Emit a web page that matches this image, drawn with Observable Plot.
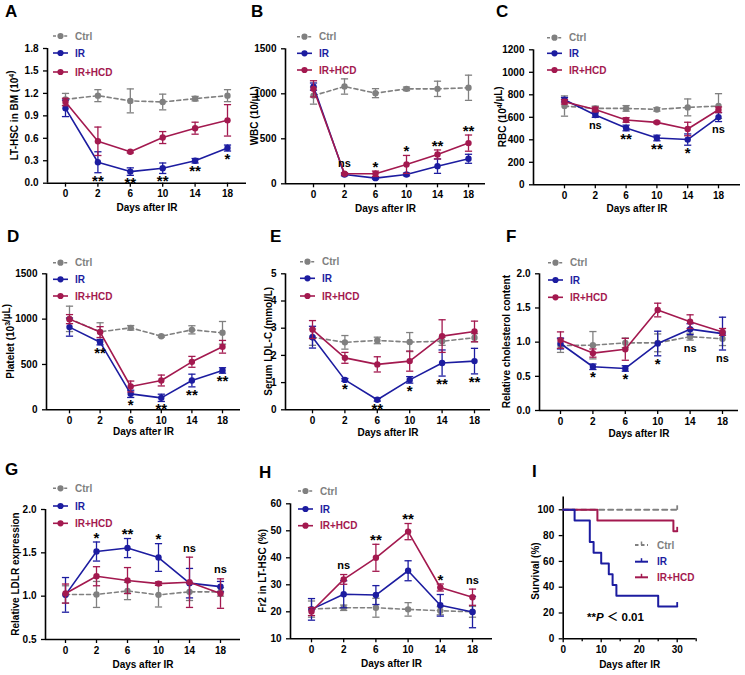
<!DOCTYPE html>
<html><head><meta charset="utf-8">
<script src="https://cdn.jsdelivr.net/npm/d3@7"></script>
<script src="https://cdn.jsdelivr.net/npm/@observablehq/plot@0.6"></script>
<style>
html,body{margin:0;padding:0;background:#fff;}
#root{position:relative;width:745px;height:675px;overflow:hidden;background:#fff;}
#root svg{position:absolute;left:0;top:0;}
</style></head><body><div id="root"></div>
<script>
// ---------------- data ----------------
const days = ["0","2","6","10","14","18"];
const groups = ["Ctrl","IR","IR+HCD"];

// A  LT-HSC in BM (10^4)
const A_ctrl=[1.12,1.17,1.10,1.085,1.13,1.17], A_ctrl_sd=[0.08,0.08,0.16,0.105,0.03,0.08];
const A_ir=[1.00,0.28,0.155,0.20,0.30,0.47],   A_ir_sd=[0.11,0.14,0.05,0.07,0.03,0.04];
const A_hcd=[1.085,0.56,0.42,0.61,0.735,0.84], A_hcd_sd=[0.05,0.19,0.015,0.08,0.08,0.21];
const A_sig=["","**","**","**","**","*"];
const A_yticks=[0,0.3,0.6,0.9,1.2,1.5,1.8];
// B  WBC
const B_ctrl=[980,1081,1007,1055,1055,1067], B_ctrl_sd=[95,85,50,20,85,140];
const B_ir=[1080,104,63,104,196,278],        B_ir_sd=[40,15,10,15,80,50];
const B_hcd=[1055,111,111,215,326,452],      B_hcd_sd=[90,10,30,100,50,90];
const B_sig=["","ns","*","*","**","**"];
const B_yticks=[0,500,1000,1500];
// C  RBC
const C_ctrl=[700,679,679,670,688,700], C_ctrl_sd=[90,20,25,15,75,110];
const C_ir=[756,620,505,416,402,602],   C_ir_sd=[20,20,25,25,50,40];
const C_hcd=[738,670,576,555,496,667],  C_hcd_sd=[20,20,20,10,60,25];
const C_sig=["","ns","**","**","*","ns"];
const C_yticks=[0,200,400,600,800,1000,1200];
// D  Platelet
const D_ctrl=[1003,860,904,812,882,849], D_ctrl_sd=[140,100,25,10,45,125];
const D_ir=[912,746,176,132,323,434],    D_ir_sd=[100,30,40,40,70,30];
const D_hcd=[1000,857,257,323,529,695],  D_hcd_sd=[50,60,60,60,60,70];
const D_sig=["","**","*","**","**","**"];
const D_yticks=[0,500,1000,1500];
// E  Serum LDL-C
const E_ctrl=[2.67,2.48,2.55,2.49,2.52,2.65], E_ctrl_sd=[0.3,0.25,0.12,0.35,0.15,0.15];
const E_ir=[2.67,1.10,0.37,1.10,1.72,1.79],   E_ir_sd=[0.4,0.05,0.05,0.12,0.48,0.47];
const E_hcd=[2.95,1.91,1.67,1.79,2.71,2.88],  E_hcd_sd=[0.33,0.2,0.28,0.37,0.6,0.38];
const E_sig=["","*","**","*","**","**"];
const E_yticks=[0,1,2,3,4,5];
// F  Relative cholesterol content
const F_ctrl=[0.95,0.955,0.99,0.99,1.08,1.05], F_ctrl_sd=[0.1,0.2,0.07,0.13,0.05,0.1];
const F_ir=[0.98,0.64,0.615,0.98,1.19,1.125],  F_ir_sd=[0.08,0.04,0.04,0.18,0.08,0.24];
const F_hcd=[1.03,0.84,0.895,1.47,1.30,1.15],  F_hcd_sd=[0.12,0.06,0.16,0.1,0.1,0.05];
const F_sig=["","*","*","*","ns","ns"];
const F_yticks=[0,0.5,1,1.5,2];
// G  Relative LDLR expression
const G_ctrl=[1.02,1.02,1.06,1.015,1.05,1.05], G_ctrl_sd=[0.1,0.15,0.1,0.14,0.1,0.05];
const G_ir=[1.015,1.515,1.555,1.446,1.15,1.11], G_ir_sd=[0.2,0.11,0.11,0.16,0.17,0.06];
const G_hcd=[1.03,1.23,1.18,1.145,1.16,1.03],   G_hcd_sd=[0.11,0.11,0.15,0.02,0.29,0.17];
const G_sig=["","*","**","*","ns","ns"];
const G_yticks=[0.5,1,1.5,2];
// H  Fr2 in LT-HSC (%)
const H_ctrl=[21,21.5,21.5,20.9,20.4,20], H_ctrl_sd=[3,1,3.5,2.5,1.5,2];
const H_ir=[20.9,26.5,26.2,35.2,22.4,19.9], H_ir_sd=[4,5,3.5,3.7,4,5.8];
const H_hcd=[20.1,32,40,49.7,29,25.4],      H_hcd_sd=[1.5,1.8,5,3,1.3,3];
const H_sig=["","ns","**","**","*","ns"];
const H_yticks=[10,20,30,40,50,60];
// I  Survival (%)
const I_ctrl_t=[0,30], I_ctrl_s=[100,100];
const I_ir_t=[0,3,7,8,10,12,13,14,25,30], I_ir_s=[100,91.7,75,66.7,58.3,50,41.7,33.3,25,25];
const I_hcd_t=[0,9,29,30], I_hcd_s=[100,91.7,83.3,83.3];
const I_xticks=[0,10,20,30], I_xminor=[5,15,25,35];
const I_yticks=[0,20,40,60,80,100];

// ---------------- style / layout ----------------
const FONT = '"Liberation Sans", Arial, "Noto Sans CJK SC", sans-serif';
const colors = {"Ctrl":"#808080","IR":"#1c1ca0","IR+HCD":"#a3194f"};
const root = document.getElementById("root");

const capSym = {draw(ctx, size){const r=Math.sqrt(size/Math.PI); ctx.moveTo(-r,0); ctx.lineTo(r,0);}};
const vTick = {draw(ctx, size){const r=Math.sqrt(size/Math.PI); ctx.moveTo(0,0); ctx.lineTo(0,-r);}};

const panels = [
 {id:"A", d:[A_ctrl,A_ctrl_sd,A_ir,A_ir_sd,A_hcd,A_hcd_sd], sig:A_sig, side:"below", yt:A_yticks, fmt:d3.format(".1f"),
  ylab:["LT-HSC in BM (10",{sup:"4"},")"], L:47,R:246,T0:65,T5:227,yTop:48,yBot:182.7, yLabX:14, legX:53, legY:[36,53,72], letter:[5,17], xdy:28},
 {id:"B", d:[B_ctrl,B_ctrl_sd,B_ir,B_ir_sd,B_hcd,B_hcd_sd], sig:B_sig, side:"above", yt:B_yticks, fmt:d3.format("d"),
  ylab:["WBC (10/µL)"], L:285,R:485,T0:313,T5:468,yTop:48.3,yBot:183.3, yLabX:254, legX:297, legY:[36.7,53.3,70], letter:[251,17], xdy:28},
 {id:"C", d:[C_ctrl,C_ctrl_sd,C_ir,C_ir_sd,C_hcd,C_hcd_sd], sig:C_sig, side:"below", yt:C_yticks, fmt:d3.format("d"),
  ylab:["RBC (10",{sup:"4"},"/µL)"], L:533,R:740,T0:564,T5:718,yTop:49.3,yBot:184.3, yLabX:502, legX:547, legY:[37.7,53.3,70], letter:[496,17], xdy:27},
 {id:"D", d:[D_ctrl,D_ctrl_sd,D_ir,D_ir_sd,D_hcd,D_hcd_sd], sig:D_sig, side:"below", yt:D_yticks, fmt:d3.format("d"),
  ylab:["Platelet (10",{sup:"3"},"/µL)"], L:46,R:240,T0:69,T5:222,yTop:273.3,yBot:409.3, yLabX:10, legX:53, legY:[262.7,279.3,296], letter:[7,242], xdy:25},
 {id:"E", d:[E_ctrl,E_ctrl_sd,E_ir,E_ir_sd,E_hcd,E_hcd_sd], sig:E_sig, side:"below", yt:E_yticks, fmt:d3.format("d"),
  ylab:["Serum LDL-C (mmol/L)"], L:285,R:490,T0:312,T5:474,yTop:273.3,yBot:409.3, yLabX:268, legX:300, legY:[261.7,278.3,296], letter:[270,242], xdy:26},
 {id:"F", d:[F_ctrl,F_ctrl_sd,F_ir,F_ir_sd,F_hcd,F_hcd_sd], sig:F_sig, side:"below", yt:F_yticks, fmt:d3.format(".1f"),
  ylab:["Relative cholesterol content"], L:539,R:738,T0:560,T5:722,yTop:273.3,yBot:410, yLabX:506, legX:548, legY:[262.7,280,297.3], letter:[506,242], xdy:26},
 {id:"G", d:[G_ctrl,G_ctrl_sd,G_ir,G_ir_sd,G_hcd,G_hcd_sd], sig:G_sig, side:"above", yt:G_yticks, fmt:d3.format(".1f"),
  ylab:["Relative LDLR expression"], L:45,R:240,T0:65,T5:220,yTop:509,yBot:639, yLabX:15, legX:53, legY:[488.3,506,523.3], letter:[5,475], xdy:28},
 {id:"H", d:[H_ctrl,H_ctrl_sd,H_ir,H_ir_sd,H_hcd,H_hcd_sd], sig:H_sig, side:"above", yt:H_yticks, fmt:d3.format("d"),
  ylab:["Fr2 in LT-HSC (%)"], L:290,R:492,T0:311,T5:472,yTop:503.3,yBot:638.3, yLabX:262, legX:298, legY:[491,509,525.7], letter:[259,478], xdy:28},
];

function baseStyle(){
  return {background:"transparent", overflow:"visible", fontFamily:FONT, fontSize:"10px", fontWeight:"bold", color:"#000"};
}

function addYLabel(svg, parts, x, yc){
  const t = d3.select(svg).append("text")
    .attr("transform", `translate(${x},${yc}) rotate(-90)`)
    .attr("text-anchor","middle").attr("dy","0.35em")
    .attr("font-family",FONT).attr("font-size",10).attr("font-weight","bold").attr("fill","#000");
  for (const p of parts){
    if (typeof p === "string") t.append("tspan").text(p);
    else { t.append("tspan").attr("dy",-4).attr("font-size",7).text(p.sup); t.append("tspan").attr("dy",4).text(""); }
  }
}

function addLetter(svg, letter, pos){
  d3.select(svg).append("text").attr("x",pos[0]).attr("y",pos[1]).attr("text-anchor","start")
    .attr("font-family",FONT).attr("font-size",17).attr("font-weight","bold").attr("fill","#000").text(letter);
}

function catPanel(p){
  const s = (p.T5 - p.T0)/5;
  const dmin = -(p.T0 - p.L)/s, dmax = 5 + (p.R - p.T5)/s;
  const series = groups.map((g,k)=>({g, v:p.d[2*k], e:p.d[2*k+1]}));
  const rows = series.flatMap(se => se.v.map((v,i)=>({g:se.g, i, v, e:se.e[i]})));
  const marks = [
    Plot.axisY(p.yt, {tickSize:4, tickPadding:5, tickFormat:p.fmt, label:null, strokeWidth:1.3}),
    Plot.axisX(d3.range(days.length), {tickSize:4, tickPadding:3, tickFormat:i=>days[i], label:null, strokeWidth:1.3}),
    Plot.ruleX([dmin], {strokeWidth:1.6}),
    Plot.ruleY([p.yt[0]], {strokeWidth:1.6}),
    Plot.text(["Days after IR"], {frameAnchor:"bottom", dy:p.xdy, fontSize:10, fontWeight:"bold"})
  ];
  for (const se of series){
    const d = rows.filter(r=>r.g===se.g);
    const col = colors[se.g];
    marks.push(
      Plot.ruleX(d, {x:"i", y1:r=>r.v-r.e, y2:r=>r.v+r.e, stroke:col, strokeWidth:1.3}),
      Plot.dot(d, {x:"i", y:r=>r.v+r.e, symbol:capSym, r:3.6, stroke:col, fill:"none", strokeWidth:1.3}),
      Plot.dot(d, {x:"i", y:r=>r.v-r.e, symbol:capSym, r:3.6, stroke:col, fill:"none", strokeWidth:1.3}),
      Plot.line(d, {x:"i", y:"v", stroke:col, strokeWidth:1.6, strokeDasharray: se.g==="Ctrl" ? "4,3" : undefined}),
      Plot.dot(d, {x:"i", y:"v", r:3.2, fill:col, stroke:"none"})
    );
  }
  // significance labels
  const sigRows = p.sig.map((lab,i)=>{
    if (!lab) return null;
    const anchor = p.side==="below"
      ? d3.min(series, se=>se.v[i]-se.e[i])
      : d3.max(series.slice(1), se=>se.v[i]+se.e[i]);
    return {i, lab, anchor};
  }).filter(Boolean);
  const below = p.side==="below";
  marks.push(
    Plot.text(sigRows.filter(r=>r.lab!=="ns"), {x:"i", y:"anchor", text:"lab", fontSize:15, fontWeight:"bold", lineAnchor:"middle", dy: below?8:-4}),
    Plot.text(sigRows.filter(r=>r.lab==="ns"), {x:"i", y:"anchor", text:"lab", fontSize:11, fontWeight:"bold", lineAnchor:"middle", dy: below?8:-9})
  );
  const svg = Plot.plot({
    width:745, height:675,
    marginLeft:p.L, marginRight:745-p.R, marginTop:p.yTop, marginBottom:675-p.yBot,
    style: baseStyle(),
    x:{domain:[dmin,dmax]},
    y:{domain:[p.yt[0], p.yt[p.yt.length-1]]},
    marks
  });
  addYLabel(svg, p.ylab, p.yLabX, (p.yTop+p.yBot)/2);
  // legend
  const g = d3.select(svg).append("g").attr("font-family",FONT).attr("font-size",10).attr("font-weight","bold").attr("text-anchor","start");
  groups.forEach((name,k)=>{
    const y = p.legY[k], col = colors[name];
    g.append("line").attr("x1",p.legX).attr("x2",p.legX+15).attr("y1",y).attr("y2",y)
      .attr("stroke",col).attr("stroke-width",1.6).attr("stroke-dasharray", k===0 ? "3,2.6" : null);
    g.append("circle").attr("cx",p.legX+7.5).attr("cy",y).attr("r",3.1).attr("fill",col);
    g.append("text").attr("x",p.legX+22).attr("y",y).attr("dy","0.36em").attr("fill",col).text(name);
  });
  addLetter(svg, p.id, p.letter);
  root.appendChild(svg);
}

panels.forEach(catPanel);

// ---------------- panel I ----------------
(function(){
  const L=562.7, R=695.7, yTop=496.4, yBot=638.3;
  const curves = [
    {g:"Ctrl", t:I_ctrl_t, s:I_ctrl_s},
    {g:"IR+HCD", t:I_hcd_t, s:I_hcd_s},
    {g:"IR", t:I_ir_t, s:I_ir_s}
  ];
  const marks = [
    Plot.axisY(I_yticks, {tickSize:4, tickPadding:5, label:null, strokeWidth:1.3}),
    Plot.axisX(I_xticks, {tickSize:4, tickPadding:3, label:null, strokeWidth:1.3}),
    Plot.axisX(I_xminor, {tickSize:3, tickFormat:()=>"", label:null, strokeWidth:1.3}),
    Plot.ruleX([0], {strokeWidth:1.6}),
    Plot.ruleY([0], {strokeWidth:1.6}),
    Plot.text(["Days after IR"], {frameAnchor:"bottom", dy:29, fontSize:10, fontWeight:"bold"})
  ];
  for (const c of curves){
    const d = c.t.map((t,i)=>({t, s:c.s[i]}));
    const col = colors[c.g];
    marks.push(
      Plot.line(d, {x:"t", y:"s", curve:"step-after", stroke:col, strokeWidth:2, strokeDasharray: c.g==="Ctrl" ? "5,4" : undefined}),
      Plot.dot(d.slice(-1), {x:"t", y:"s", symbol:vTick, r:4.5, stroke:col, fill:"none", strokeWidth:1.8})
    );
  }
  const svg = Plot.plot({
    width:745, height:675,
    marginLeft:L, marginRight:745-R, marginTop:yTop, marginBottom:675-yBot,
    style: baseStyle(),
    x:{domain:[0,35]},
    y:{domain:[0,110]},
    marks
  });
  addYLabel(svg, ["Survival (%)"], 535, 571);
  const g = d3.select(svg).append("g").attr("font-family",FONT).attr("font-size",10).attr("font-weight","bold").attr("text-anchor","start");
  const legY=[545,561.7,577.3], legX=635;
  groups.forEach((name,k)=>{
    const y = legY[k], col = colors[name];
    g.append("line").attr("x1",legX).attr("x2",legX+13).attr("y1",y).attr("y2",y)
      .attr("stroke",col).attr("stroke-width",2).attr("stroke-dasharray", k===0 ? "3.5,2.5" : null);
    g.append("line").attr("x1",legX+6.5).attr("x2",legX+6.5).attr("y1",y).attr("y2",y-3.5)
      .attr("stroke",col).attr("stroke-width",1.5);
    g.append("text").attr("x",legX+22).attr("y",y).attr("dy","0.36em").attr("fill",col).text(name);
  });
  const pt = d3.select(svg).append("text").attr("x",587).attr("y",621).attr("text-anchor","start")
    .attr("font-family",FONT).attr("font-size",11.5).attr("font-weight","bold").attr("fill","#000");
  pt.append("tspan").text("**");
  pt.append("tspan").attr("font-style","italic").text("P");
  pt.append("tspan").text(" ＜ 0.01");
  addLetter(svg, "I", [532,477]);
  root.appendChild(svg);
})();
</script>
</body></html>
